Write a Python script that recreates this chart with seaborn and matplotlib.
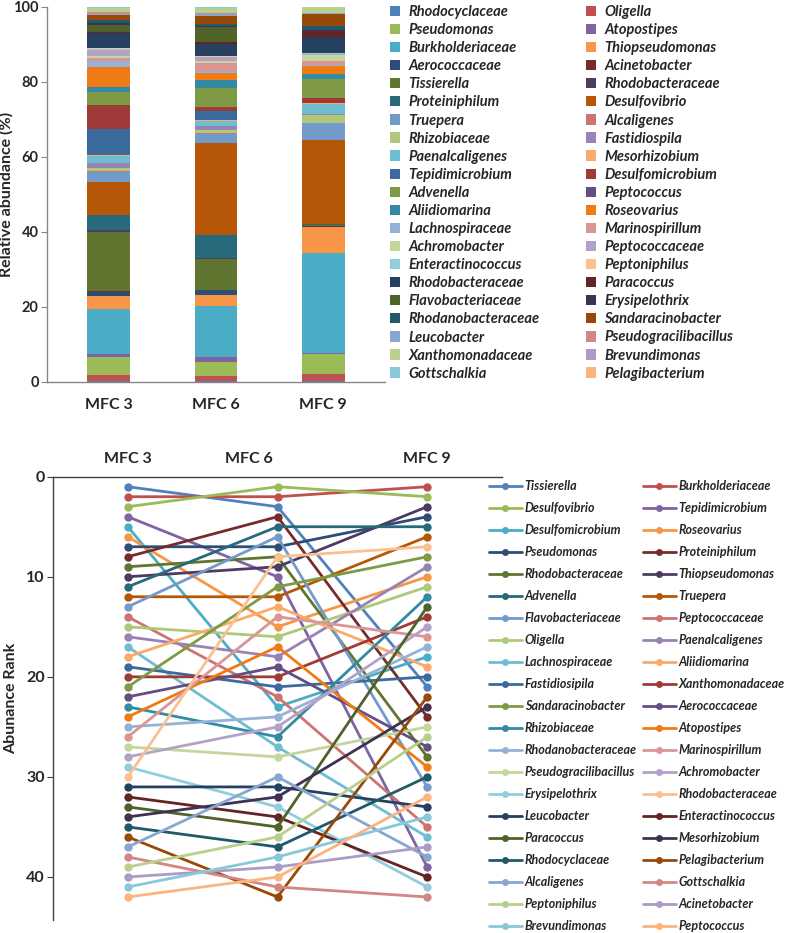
import numpy as np
import pandas as pd
import seaborn as sns
import matplotlib.pyplot as plt
import matplotlib.transforms as mtransforms
from matplotlib.patches import Patch
from matplotlib.lines import Line2D

sns.set_theme(style='white')
plt.rcParams['font.family'] = ['Lato', 'DejaVu Sans']
plt.rcParams['font.weight'] = 'bold'

# ── Data ────────────────────────────────────────────────────────────────────
SAMPLES = ['MFC 3', 'MFC 6', 'MFC 9']

# Excel-style series palette (series 1..42)
PALETTE = ['#4F81BD', '#C0504D', '#9BBB59', '#8064A2', '#4BACC6', '#F79646',
           '#2C4D75', '#772C2A', '#5F7530', '#4D3B62', '#276A7C', '#B65708',
           '#729ACA', '#CD7371', '#AFC97A', '#9983B5', '#6FBDD1', '#F9AB6B',
           '#3A6A9E', '#9E3B38', '#7E9A45', '#654E82', '#338AA3', '#F07A14',
           '#95B3D7', '#D99694', '#C3D69B', '#B3A2C7', '#93CDDD', '#FAC090',
           '#254061', '#632523', '#4F6228', '#3F3151', '#215968', '#984807',
           '#87A6D2', '#D38784', '#B9D08D', '#AC9BC5', '#88C8DA', '#FAB47E']

# stacked bar (bottom -> top)
BAR_TAXA = ['Rhodocyclaceae', 'Oligella', 'Pseudomonas', 'Atopostipes',
            'Burkholderiaceae', 'Thiopseudomonas', 'Aerococcaceae', 'Acinetobacter',
            'Tissierella', 'Rhodobacteraceae', 'Proteiniphilum', 'Desulfovibrio',
            'Truepera', 'Alcaligenes', 'Rhizobiaceae', 'Fastidiospila',
            'Paenalcaligenes', 'Mesorhizobium', 'Tepidimicrobium', 'Desulfomicrobium',
            'Advenella', 'Peptococcus', 'Aliidiomarina', 'Roseovarius',
            'Lachnospiraceae', 'Marinospirillum', 'Achromobacter', 'Peptococcaceae',
            'Enteractinococcus', 'Peptoniphilus', 'Rhodobacteraceae', 'Paracoccus',
            'Flavobacteriaceae', 'Erysipelothrix', 'Rhodanobacteraceae', 'Sandaracinobacter',
            'Leucobacter', 'Pseudogracilibacillus', 'Xanthomonadaceae', 'Brevundimonas',
            'Gottschalkia', 'Pelagibacterium']
MFC3 = [0.2, 1.5, 4.8, 0.9, 12.1, 3.3, 1.2, 0.1, 15.9, 0.4, 4.2, 8.6,
        2.7, 0.3, 0.9, 1.3, 1.8, 0.2, 7.1, 6.4, 3.4, 0.1, 1.2, 5.3,
        1.6, 0.8, 0.5, 1.8, 0.3, 0.1, 4.0, 0.3, 2.0, 0.5, 0.7, 1.3,
        0.4, 0.4, 1.1, 0.1, 0.2, 0.1]
MFC6 = [0.1, 1.3, 3.9, 1.3, 13.6, 3.0, 1.2, 0.1, 8.2, 0.4, 6.1, 24.6,
        2.4, 0.3, 0.6, 1.2, 1.2, 0.4, 2.3, 1.1, 5.1, 0.1, 2.0, 1.9,
        0.6, 2.0, 0.6, 1.0, 0.1, 0.1, 3.4, 0.4, 4.0, 0.3, 0.6, 2.2,
        0.4, 0.4, 1.2, 0.1, 0.1, 0.1]
MFC9 = [0.1, 2.0, 5.3, 0.2, 26.7, 6.9, 0.2, 0.1, 0.3, 0.1, 0.2, 22.5,
        4.4, 0.1, 2.0, 0.3, 2.7, 0.2, 0.1, 1.2, 5.1, 0.1, 1.2, 2.3,
        0.1, 1.3, 1.6, 0.1, 0.2, 0.2, 4.2, 1.5, 0.2, 0.1, 1.2, 3.1,
        0.2, 0.2, 1.4, 0.1, 0.1, 0.2]

# rank plot
RANK_TAXA = ['Tissierella', 'Burkholderiaceae', 'Desulfovibrio', 'Tepidimicrobium',
             'Desulfomicrobium', 'Roseovarius', 'Pseudomonas', 'Proteiniphilum',
             'Rhodobacteraceae', 'Thiopseudomonas', 'Advenella', 'Truepera',
             'Flavobacteriaceae', 'Peptococcaceae', 'Oligella', 'Paenalcaligenes',
             'Lachnospiraceae', 'Aliidiomarina', 'Fastidiosipila', 'Xanthomonadaceae',
             'Sandaracinobacter', 'Aerococcaceae', 'Rhizobiaceae', 'Atopostipes',
             'Rhodanobacteraceae', 'Marinospirillum', 'Pseudogracilibacillus', 'Achromobacter',
             'Erysipelothrix', 'Rhodobacteraceae', 'Leucobacter', 'Enteractinococcus',
             'Paracoccus', 'Mesorhizobium', 'Rhodocyclaceae', 'Pelagibacterium',
             'Alcaligenes', 'Gottschalkia', 'Peptoniphilus', 'Acinetobacter',
             'Brevundimonas', 'Peptococcus']
RANK_MFC3 = [1, 2, 3, 4, 5, 6, 7, 8, 9, 10, 11, 12, 13, 14, 15, 16, 17, 18, 19, 20, 21,
             22, 23, 24, 25, 26, 27, 28, 29, 30, 31, 32, 33, 34, 35, 36, 37, 38, 39, 40, 41, 42]
RANK_MFC6 = [3, 2, 1, 10, 23, 15, 7, 4, 8, 9, 5, 12, 6, 22, 16, 18, 27, 13, 21, 20, 11,
             19, 26, 17, 24, 14, 28, 25, 33, 8, 31, 34, 35, 32, 37, 42, 30, 41, 36, 39, 38, 40]
RANK_MFC9 = [21, 1, 2, 39, 18, 10, 4, 24, 28, 3, 5, 6, 31, 35, 11, 9, 36, 19, 20, 14, 8,
             27, 12, 29, 17, 16, 25, 15, 41, 7, 33, 40, 13, 23, 30, 22, 38, 42, 26, 37, 34, 32]

W, H = 789, 933
fig = plt.figure(figsize=(W / 100, H / 100), dpi=100)

# ── Stacked bars ────────────────────────────────────────────────────────────
ax1 = fig.add_axes([47 / W, 1 - 381.7 / H, (385 - 47) / W, (381.7 - 7) / H])
bars = pd.DataFrame({'MFC 3': MFC3, 'MFC 6': MFC6, 'MFC 9': MFC9})
cum = bars.cumsum()
for i in range(len(BAR_TAXA) - 1, -1, -1):
    sns.barplot(x=SAMPLES, y=cum.loc[i].values, color=PALETTE[i], width=0.4,
                saturation=1, linewidth=0, ax=ax1)
ax1.set_xlim(-0.575, 2.575)
ax1.set_ylim(0, 100)
ax1.set_yticks([0, 20, 40, 60, 80, 100])
ax1.tick_params(axis='y', labelsize=10.5, length=4, width=0.8, color='#868686', pad=2, left=True)
ax1.tick_params(axis='x', labelsize=11.5, length=0, pad=12)
ax1.set_ylabel('Relative abundance (%)', fontsize=11.5, fontweight='bold')
ax1.yaxis.set_label_coords(-0.1, 0.5)
for s in ['top', 'right']:
    ax1.spines[s].set_visible(False)
for s in ['left', 'bottom']:
    ax1.spines[s].set_color('#868686')
    ax1.spines[s].set_linewidth(1.0)

order = list(range(0, 42, 2)) + list(range(1, 42, 2))
bar_handles = [Patch(facecolor=PALETTE[i], edgecolor='none') for i in order]
bar_labels = [BAR_TAXA[i] for i in order]
fig.legend(bar_handles, bar_labels, loc='upper left', bbox_to_anchor=(390 / W, 1 - 5 / H),
           ncol=2, frameon=False, prop={'style': 'italic', 'weight': 'bold', 'size': 10.5},
           handlelength=0.7, handleheight=0.7, handletextpad=0.55, columnspacing=3.2,
           labelspacing=0.28, borderpad=0, borderaxespad=0)

# ── Rank plot ───────────────────────────────────────────────────────────────
ax2 = fig.add_axes([53 / W, 1 - 920 / H, (502 - 53) / W, (920 - 476.7) / H])
ids = ['s%02d' % i for i in range(len(RANK_TAXA))]
long = pd.DataFrame({
    'id': np.repeat(ids, 3),
    'sample': SAMPLES * len(ids),
    'rank': np.column_stack([RANK_MFC3, RANK_MFC6, RANK_MFC9]).ravel(),
})
sns.lineplot(data=long, x='sample', y='rank', hue='id', hue_order=ids, palette=PALETTE,
             marker='o', markersize=6, markeredgewidth=0, linewidth=2.0,
             legend=False, sort=False, ax=ax2)
ax2.set_xlim(-0.5, 2.5)
ax2.set_ylim(44.3, 0)
ax2.set_yticks([0, 10, 20, 30, 40])
ax2.xaxis.tick_top()
ax2.set_xlabel('')
ax2.set_ylabel('Abunance Rank', fontsize=11.5, fontweight='bold', labelpad=6)
ax2.tick_params(axis='y', labelsize=11.5, length=4, width=0.8, color='#404040', pad=2, left=True)
ax2.tick_params(axis='x', labelsize=11.5, length=0, pad=8)
for s in ['bottom', 'right']:
    ax2.spines[s].set_visible(False)
for s in ['left', 'top']:
    ax2.spines[s].set_color('#404040')
    ax2.spines[s].set_linewidth(1.0)

# the middle sample label sits a little left of its column in the original
shift = mtransforms.ScaledTranslation(-0.29, 0, fig.dpi_scale_trans)
mid = ax2.get_xticklabels()[1]
mid.set_transform(mid.get_transform() + shift)

rank_handles = [Line2D([0], [0], color=PALETTE[i], lw=2, marker='o', markersize=5,
                       markeredgewidth=0) for i in order]
rank_labels = [RANK_TAXA[i] for i in order]
fig.legend(rank_handles, rank_labels, loc='upper left', bbox_to_anchor=(489 / W, 1 - 480 / H),
           ncol=2, frameon=False, prop={'style': 'italic', 'weight': 'bold', 'size': 9},
           handlelength=2.6, handletextpad=0.25, columnspacing=0.5,
           labelspacing=0.80, borderpad=0, borderaxespad=0)

fig.savefig('out.png', dpi=100)
